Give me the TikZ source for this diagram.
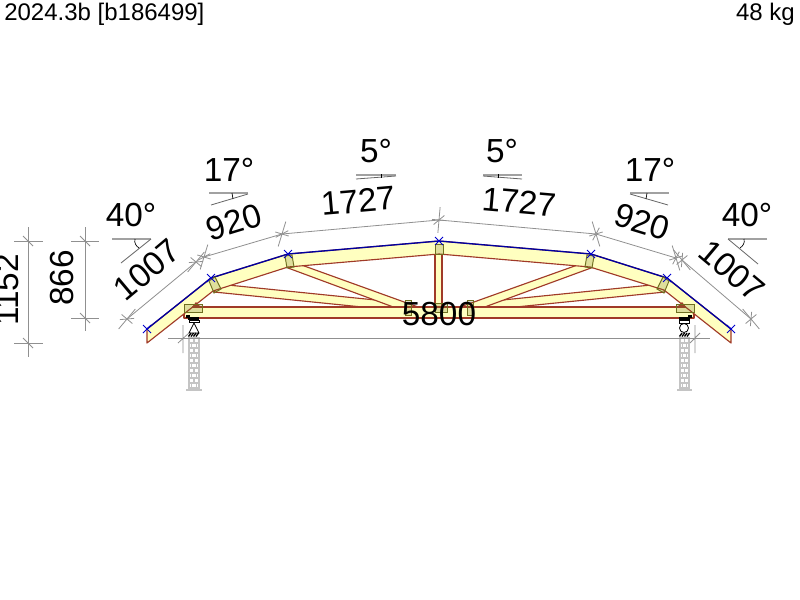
\documentclass[tikz,border=0pt]{standalone}
\usepackage{fontspec}
\setmainfont{Liberation Sans}
\definecolor{wood}{HTML}{FFFFC0}
\definecolor{edge}{HTML}{A03A28}
\definecolor{topblue}{HTML}{0000A0}
\definecolor{plate}{HTML}{6F6F20}
\definecolor{dimc}{HTML}{909090}
\definecolor{brick}{HTML}{C4C4C4}
\tikzset{
  member/.style={fill=wood,draw=edge,line width=0.85pt,line join=round},
  topline/.style={draw=topblue,line width=1pt},
  conn/.style={draw=plate,line width=0.7pt,fill=plate,fill opacity=0.22},
  dimline/.style={draw=dimc,line width=0.6pt},
  anglebar/.style={draw=dimc!85,line width=1.3pt},
  bigtext/.style={font=\fontsize{25}{25}\selectfont,inner sep=0pt,text=black},
  headtext/.style={font=\fontsize{18}{18}\selectfont,inner sep=0pt,text=black},
  joint/.style={draw=blue!80!black,line width=0.7pt},
  support/.style={draw=black,line width=0.6pt},
}
\newcommand{\jointx}[2]{\draw[joint] (#1-4,#2-4) -- (#1+4,#2+4) (#1-4,#2+4) -- (#1+4,#2-4);}
\newcommand{\dimstar}[3]{%
  \begin{scope}[shift={(#1,#2)},rotate=#3]
    \draw[dimline] (-7,0) -- (7,0) (0,-13) -- (0,13);
    \draw[dimline] (-5,5) -- (5,-5);
  \end{scope}}
\newcommand{\wall}[2]{%
  \fill[white] (#1,338) rectangle (#2,388);
  \draw[draw=brick,line width=0.9pt] (#1,338) rectangle (#2,388);
  \foreach \yy in {343,348,...,385}{\draw[draw=brick,line width=0.8pt] (#1,\yy) -- (#2,\yy);}
  \foreach \yy in {338,348,...,378}{\draw[draw=brick,line width=0.8pt] ({(#1+#2)/2},\yy) -- ({(#1+#2)/2},\yy+5);}
  \foreach \yy in {343,353,...,383}{\draw[draw=brick,line width=0.8pt] ({#1+2.5},\yy) -- ({#1+2.5},\yy+5) ({#2-2.5},\yy) -- ({#2-2.5},\yy+5);}
  \draw[draw=brick,line width=0.8pt] ({#1-3},390) -- ({#2+3},390);
}
\begin{document}
\begin{tikzpicture}[x=0.75pt,y=-0.75pt]
\useasboundingbox (0,0) rectangle (800,600);
\fill[white] (0,0) rectangle (800,600);

% ---- header
\node[headtext,anchor=base west] (hl) at (4,20) {2024.3b [b186499]};
\node[headtext,anchor=base east] (hr) at (795,20) {48 kg};

% ---- walls
\wall{189}{199}
\wall{680}{689}

% ---- webs
\draw[member] (435,254) rectangle (442,308);
\draw[member] (218,284) -- (405,303) -- (405,308) -- (372,308) -- (214,292) -- cycle;
\draw[member] (661,284) -- (473,303) -- (473,308) -- (506,308) -- (665,292) -- cycle;
\draw[member] (296,263) -- (418,307) -- (396,308) -- (288,268) -- cycle;
\draw[member] (583,263) -- (460,307) -- (482,308) -- (591,268) -- cycle;

% ---- bottom chord
\draw[member] (184,307) rectangle (694,318);

% ---- rafters
\draw[member] (147,329) -- (211,278) -- (288,254) -- (439,241) -- (591,254) -- (667,278)
  -- (731,329) -- (731,343) -- (664,290) -- (590,267) -- (439,254) -- (288,267) -- (213,291) -- (147,343) -- cycle;
\draw[topline] (147,329) -- (211,278) -- (288,254) -- (439,241) -- (591,254) -- (667,278) -- (731,329);

% ---- supports
\draw[support,line width=1.6pt] (188,318.5) -- (199,318.5);
\draw[support,line width=1.6pt] (679,318.5) -- (690,318.5);
\fill[black] (186,315) rectangle (190,318);
\fill[black] (688,315) rectangle (692,318);
\draw[support] (189,320) rectangle (199,322);
\draw[support] (679,320) rectangle (689,323);
\draw[support] (194,323) -- (189,333) -- (199,333) -- cycle;
\draw[support] (684,328) circle (4.5);
\foreach \xx in {188.5,191,...,198}{\draw[support,line width=1pt] (\xx,336.5) -- (\xx+2.5,333);}
\foreach \xx in {679.5,682,...,689}{\draw[support,line width=1pt] (\xx,336.5) -- (\xx+2.5,333);}

% ---- connector plates
\fill[edge] (192,307) -- (196,302) -- (201,307) -- cycle;
\fill[edge] (686,307) -- (682,302) -- (677,307) -- cycle;
\draw[conn] (184,304) rectangle (202,312);
\draw[conn] (676,304) rectangle (694,312);
\draw[conn] (209,281) -- (215,277) -- (221,289) -- (214,293) -- cycle;
\draw[conn] (669,281) -- (663,277) -- (657,289) -- (664,293) -- cycle;
\draw[conn] (285,256) -- (292,255) -- (294,267) -- (287,268) -- cycle;
\draw[conn] (594,256) -- (587,255) -- (585,267) -- (592,268) -- cycle;
\draw[conn] (435,244) rectangle (443,254);
\draw[conn] (405,300) rectangle (411,315);
\draw[conn] (467,300) rectangle (473,315);
\draw[conn] (435,303) rectangle (447,312);

% ---- joints
\jointx{147}{329}\jointx{211}{278}\jointx{288}{254}\jointx{439}{241}\jointx{591}{254}\jointx{667}{278}\jointx{731}{329}

% ---- dimension lines along the chord
\draw[dimline] (127,319) -- (196,262) (204,257) -- (282,234) -- (439,220) -- (596,234) -- (676,258) (682,260) -- (751,319);
\dimstar{127}{319}{-40}
\dimstar{196}{262}{-40}
\dimstar{204}{257}{-17}
\dimstar{282}{234}{-17}
\dimstar{439}{220}{-5}
\dimstar{596}{234}{17}
\dimstar{676}{258}{17}
\dimstar{682}{260}{40}
\dimstar{751}{319}{40}

% ---- span and heights
\draw[dimline] (168,338) -- (710,338);
\draw[dimline] (183,325) -- (183,353) (178,343) -- (189,333);
\draw[dimline] (695,325) -- (695,353) (690,343) -- (700,333);
\draw[dimline] (28,227) -- (28,357) (14,241) -- (43,241) (14,343) -- (43,343);
\draw[dimline] (23,236) -- (33,246) (23,338) -- (33,348);
\draw[dimline] (85,227) -- (85,331) (71,241) -- (99,241) (71,318) -- (99,318);
\draw[dimline] (80,236) -- (90,246) (80,313) -- (90,323);

% ---- angle symbols
\draw[anglebar] (112,239) -- (151,239);
\draw[dimline,draw=black!60] (151,239) -- (121,263);
\draw[black,line width=0.5pt] (135,239) .. controls (134,243) and (136,246) .. (139,248);
\draw[anglebar] (209,193) -- (248,193);
\draw[dimline,draw=black!60] (248,194) -- (211,205);
\draw[black,line width=0.5pt] (232,193) -- (233,199);
\draw[anglebar] (356,175) -- (396,175);
\draw[dimline,draw=black!60] (396,176) -- (356,179);
\draw[black,line width=0.5pt] (381,174) -- (381,178);
\draw[anglebar] (483,175) -- (522,175);
\draw[dimline,draw=black!60] (483,176) -- (522,179);
\draw[black,line width=0.5pt] (498,174) -- (498,178);
\draw[anglebar] (630,193) -- (669,193);
\draw[dimline,draw=black!60] (630,194) -- (668,205);
\draw[black,line width=0.5pt] (647,193) -- (646,199);
\draw[anglebar] (767,239) -- (728,239);
\draw[dimline,draw=black!60] (728,239) -- (758,264);
\draw[black,line width=0.5pt] (744,239) .. controls (745,243) and (743,246) .. (740,248);

% ---- big labels
\node[bigtext] (a1) at (131,215) {40°};
\node[bigtext] (a2) at (229,170) {17°};
\node[bigtext] (a3) at (376,151) {5°};
\node[bigtext] (a4) at (502,151) {5°};
\node[bigtext] (a5) at (650,170) {17°};
\node[bigtext] (a6) at (747,215) {40°};
\node[bigtext,rotate=40] (d1) at (147,270) {1007};
\node[bigtext,rotate=17] (d2) at (234,222) {920};
\node[bigtext,rotate=5] (d3) at (358,201) {1727};
\node[bigtext,rotate=-5] (d4) at (519,202) {1727};
\node[bigtext,rotate=-17] (d5) at (642,222) {920};
\node[bigtext,rotate=-40] (d6) at (732,271) {1007};
\node[bigtext,rotate=90] (h1) at (7,290) {1152};
\node[bigtext,rotate=90] (h2) at (62,278) {866};
\node[bigtext] (sp) at (439,314) {5800};
\end{tikzpicture}
\end{document}
